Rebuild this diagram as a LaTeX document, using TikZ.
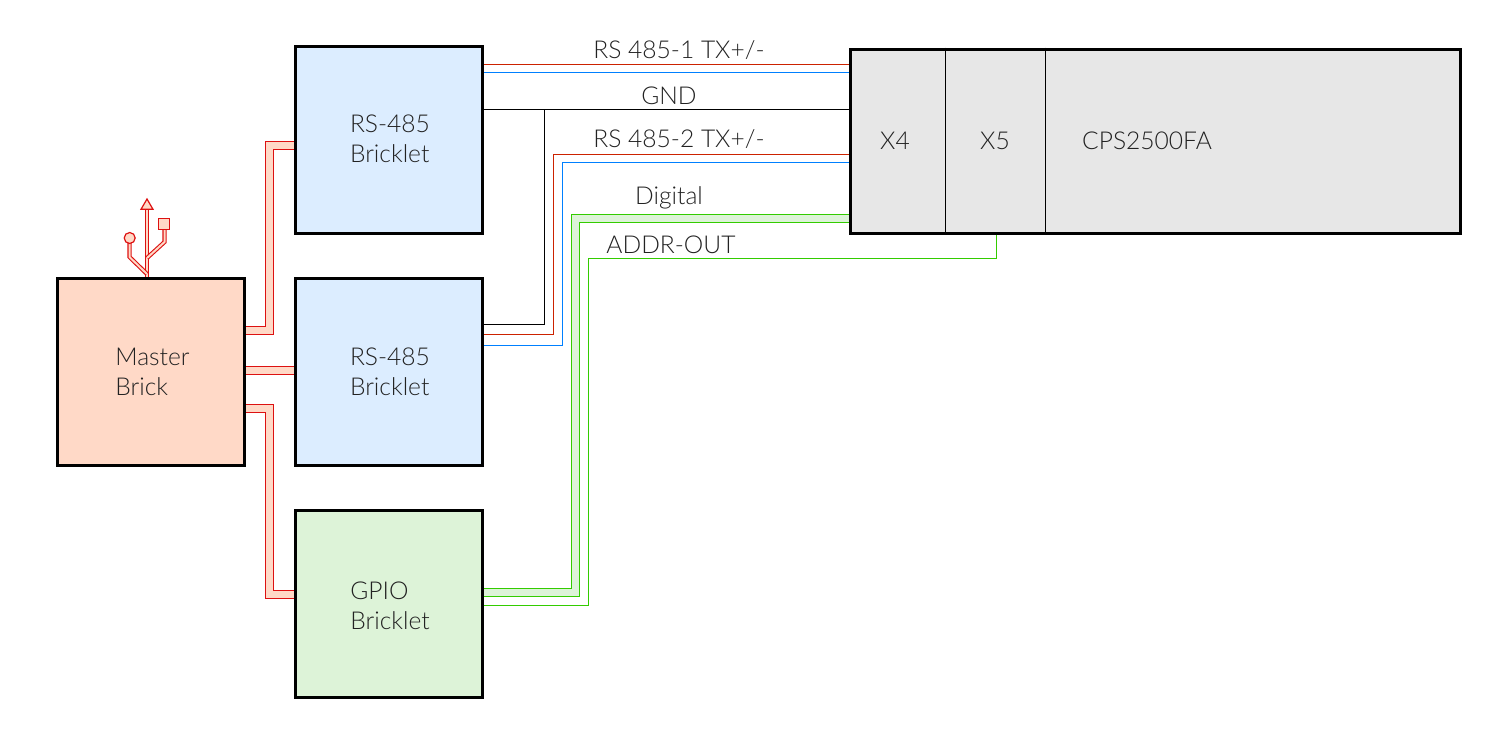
\documentclass[tikz,border=0pt]{standalone}
\usepackage{fontspec}
\setmainfont{Lato Light}
\usetikzlibrary{positioning}

\definecolor{masterfill}{HTML}{FFD9C7}
\definecolor{rsfill}{HTML}{DCEDFF}
\definecolor{gpiofill}{HTML}{DDF3D8}
\definecolor{cpsfill}{HTML}{E7E7E7}
\definecolor{brickred}{HTML}{DD1111}
\definecolor{txred}{HTML}{CC2200}
\definecolor{txblue}{HTML}{0080FF}
\definecolor{wiregreen}{HTML}{33CC00}
\definecolor{labelgray}{HTML}{222222}

\tikzset{
  brickbox/.style={draw=black,line width=0.06cm,minimum width=3.76cm,minimum height=3.76cm,inner sep=0pt},
  wirelabel/.style={inner sep=0pt,align=left,text=labelgray,font=\fontsize{14}{17}\selectfont},
  thinwire/.style={line width=0.028cm},
  brickwire/.style={draw=brickred,line width=0.028cm,double=masterfill,double distance=0.132cm},
  digitalwire/.style={draw=wiregreen,line width=0.028cm,double=gpiofill,double distance=0.132cm},
  usbwire/.style={draw=brickred,line width=0.022cm,double=masterfill,double distance=0.04cm},
  usbpart/.style={draw=brickred,line width=0.024cm,fill=masterfill,inner sep=0pt}
}

\begin{document}
\begin{tikzpicture}[x=0.02cm,y=-0.02cm]
\useasboundingbox (0,0) rectangle (1502,735);

% boxes
\node[brickbox,fill=masterfill] (master) at (151,372) {};
\node[brickbox,fill=rsfill] (rsa) at (389,140) {};
\node[brickbox,fill=rsfill] (rsb) at (389,372) {};
\node[brickbox,fill=gpiofill] (gpio) at (389,604) {};
\node[brickbox,fill=cpsfill,minimum width=12.22cm,minimum height=3.7cm] (cps) at (1155.5,141.5) {};

% box labels
\node[wirelabel] (mastername) at (152.5,372) {Master\\Brick};
\node[wirelabel] (rsaname) at (390,139) {RS-485\\Bricklet};
\node[wirelabel] (rsbname) at (390,372) {RS-485\\Bricklet};
\node[wirelabel] (gpioname) at (390,606) {GPIO\\Bricklet};

% cps parts
\draw[line width=0.03cm] (cps.north -| 945.5,0) -- (cps.south -| 945.5,0);
\draw[line width=0.03cm] (cps.north -| 1045.5,0) -- (cps.south -| 1045.5,0);
\node[wirelabel] (xfour) at (895,141) {X4};
\node[wirelabel] (xfive) at (995,141) {X5};
\node[wirelabel] (cpsname) at (1147,141) {CPS2500FA};

% master to bricklets
\draw[brickwire] (master.east |- 0,330.5) -- (269.5,330.5) |- (rsa.west |- 0,145.5);
\draw[brickwire] (master.east |- 0,370.5) -- (rsb.west |- 0,370.5);
\draw[brickwire] (master.east |- 0,408.5) -- (269.5,408.5) |- (gpio.west |- 0,594.5);

% first rs-485
\draw[thinwire,txred] (rsa.east |- 0,64.5) -- (cps.west |- 0,64.5);
\draw[thinwire,txblue] (rsa.east |- 0,72.5) -- (cps.west |- 0,72.5);
\draw[thinwire] (rsa.east |- 0,109.5) -- (cps.west |- 0,109.5);

% second rs-485
\draw[thinwire] (rsb.east |- 0,324.5) -| (544.5,109.5);
\draw[thinwire,txred] (rsb.east |- 0,334.5) -- (553.5,334.5) |- (cps.west |- 0,154.5);
\draw[thinwire,txblue] (rsb.east |- 0,345.5) -- (562.5,345.5) |- (cps.west |- 0,162.5);

% gpio
\draw[digitalwire] (gpio.east |- 0,592.5) -- (575.5,592.5) |- (cps.west |- 0,218.5);
\draw[thinwire,wiregreen] (gpio.east |- 0,605.5) -- (588.5,605.5) |- (996.5,258.5) -- (cps.south -| 996.5,0);

% wire labels
\node[wirelabel] (txone) at (679,50) {RS 485-1 TX+/-};
\node[wirelabel] (gnd) at (669,96) {GND};
\node[wirelabel] (txtwo) at (679,139) {RS 485-2 TX+/-};
\node[wirelabel] (digital) at (669,198) {Digital};
\node[wirelabel] (addr) at (671,245) {ADDR-OUT};

% usb symbol
\draw[usbwire] (master.north -| 147,0) -- (147,207);
\draw[usbwire] (147,274) -- (129.5,257) -- (129.5,242);
\draw[usbwire] (147,258) -- (164.5,242) -- (164.5,228);
\draw[usbpart] (147,199) -- (153,209.3) -- (141,209.3) -- cycle;
\node[usbpart,circle,minimum size=0.22cm] (usbport) at (129.7,238) {};
\node[usbpart,minimum size=0.22cm] (usbplug) at (164.3,224) {};
\end{tikzpicture}
\end{document}
